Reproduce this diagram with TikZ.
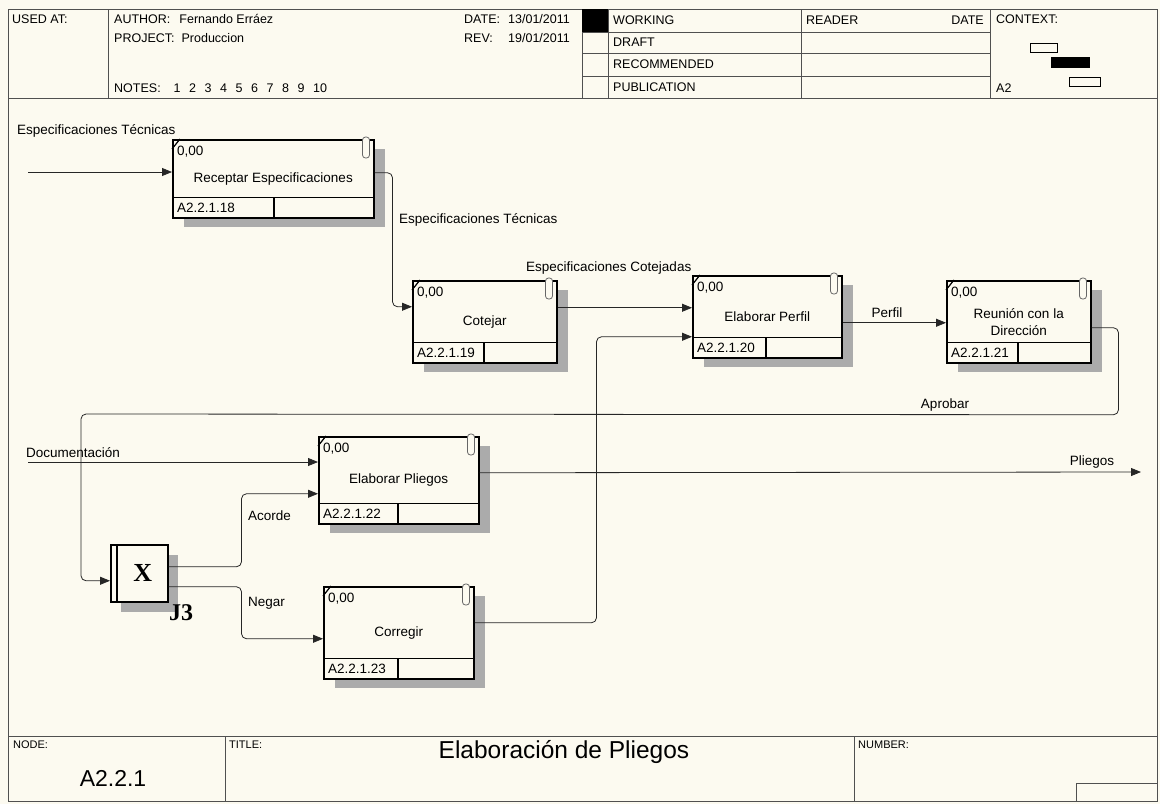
\documentclass[tikz,border=0pt]{standalone}
\usepackage{fontspec}
\setmainfont{Liberation Sans}
\newfontfamily\juncfont{Liberation Serif}
\usetikzlibrary{arrows.meta,calc}
\definecolor{paperclr}{HTML}{FCFAF0}
\definecolor{frameclr}{HTML}{505050}
\definecolor{shadeclr}{HTML}{ABABAB}

% activity box: name, north-west corner, width, height, divider, text, number
\newcommand{\actbox}[7]{%
  \fill[boxshadow] ($(#2)+(12,10)$) rectangle ++(#3,#4);
  \node[act, minimum width=#3pt, minimum height=#4pt] (#1) at (#2) {};
  \node[lbl, align=center] (#1-txt) at (#1.center) {#6};
  \draw[line width=1.2pt] ([yshift=21pt]#1.south west) -- ([yshift=21pt]#1.south east);
  \draw[line width=1.2pt] ([xshift=#5pt]#1.south west) -- ([xshift=#5pt,yshift=21pt]#1.south west);
  \node[lbl, anchor=west] (#1-num) at ([xshift=4pt,yshift=10.5pt]#1.south west) {#7};
  \node[lbl, anchor=west] (#1-cost) at ([xshift=4pt,yshift=-13pt]#1.north west) {0,00};
  \draw[line width=1.2pt] ([yshift=-10pt]#1.north west) -- ([xshift=8pt]#1.north west);
  \draw[clipicon] ([xshift=-12pt,yshift=2pt]#1.north east) rectangle ([xshift=-5pt,yshift=-19pt]#1.north east);
}

\begin{document}
\begin{tikzpicture}[x=1pt, y=-1pt,
  font=\fontsize{13.5}{17}\selectfont,
  frame/.style={draw=frameclr, line width=1pt},
  act/.style={rectangle, draw=black, line width=1.5pt, fill=paperclr, anchor=north west, inner sep=0pt},
  junc/.style={act, minimum width=57pt, minimum height=57pt},
  boxshadow/.style={fill=shadeclr},
  lbl/.style={inner sep=1pt, font=\fontsize{13.5}{17}\selectfont},
  hdr/.style={inner sep=0pt, anchor=west, font=\fontsize{12.5}{15}\selectfont},
  tblk/.style={inner sep=0pt, anchor=west, font=\fontsize{11}{13}\selectfont},
  clipicon/.style={draw=black!60, line width=0.8pt, fill=paperclr, rounded corners=3pt},
  arrow/.style={-{Triangle[length=10pt,width=8pt]}, line width=0.8pt, draw=black!85, rounded corners=5pt},
]

% Paper
\fill[paperclr] (0,0) rectangle (1160,804);
\useasboundingbox (0,0) rectangle (1160,804);

% Frame
\draw[frame] (8,9) rectangle (1157,801);
\draw[frame] (8,98) -- (1157,98);
\draw[frame] (8,736) -- (1157,736);

% Header
\foreach \x in {108,582,608,801,990} \draw[frame] (\x,9) -- (\x,98);
\foreach \y in {32,53,76} \draw[frame] (582,\y) -- (990,\y);
\fill (582,9) rectangle (608,32);
\node[hdr] (usedat) at (12,19) {USED AT:};
\node[hdr] (author) at (114,19) {AUTHOR:\hspace{9pt}Fernando Erráez};
\node[hdr] (project) at (114,38) {PROJECT:\hspace{7pt}Produccion};
\node[hdr] (notes) at (114,88) {NOTES:};
\foreach \n [count=\i] in {1,...,10}
  \node[hdr] (note\n) at (158+15.5*\i, 88) {\n};
\node[hdr] (date) at (464,19) {DATE:};
\node[hdr] (dateval) at (508,19) {13/01/2011};
\node[hdr] (rev) at (464,38) {REV:};
\node[hdr] (revval) at (508,38) {19/01/2011};
\node[hdr] (working) at (613,20) {WORKING};
\node[hdr] (draft) at (613,42) {DRAFT};
\node[hdr] (recom) at (613,64) {RECOMMENDED};
\node[hdr] (public) at (613,87) {PUBLICATION};
\node[hdr] (reader) at (806,20) {READER};
\node[hdr, anchor=east] (readdate) at (984,20) {DATE};
\node[hdr] (context) at (996,19) {CONTEXT:};
\node[hdr] (ctxnode) at (996,88) {A2};
\draw[line width=0.8pt] (1030,43) rectangle (1057,52);
\fill (1051,57) rectangle (1090,68);
\draw[line width=0.8pt] (1069,77) rectangle (1100,86);

% Activities
\actbox{recep}{172,139}{201}{78}{102}{Receptar Especificaciones}{A2.2.1.18}
\actbox{cotejar}{412,280}{144}{82}{72}{Cotejar}{A2.2.1.19}
\actbox{perfil}{692,275}{149}{82}{74}{Elaborar Perfil}{A2.2.1.20}
\actbox{reunion}{946,280}{144}{82}{72}{Reunión con la\\Dirección}{A2.2.1.21}
\actbox{pliegos}{318,436}{160}{87}{80}{Elaborar Pliegos}{A2.2.1.22}
\actbox{corregir}{323,586}{150}{92}{75}{Corregir}{A2.2.1.23}

% Junction J3
\fill[boxshadow] (121,555) rectangle (178,612);
\node[junc] (j3) at (110,544) {};
\draw[line width=1.2pt] ([xshift=7pt]j3.north west) -- ([xshift=7pt]j3.south west);
\node[font=\juncfont\bfseries\fontsize{26}{26}\selectfont] (j3x) at ([xshift=3.5pt]j3.center) {X};
\node[font=\juncfont\bfseries\fontsize{24}{24}\selectfont] (j3lbl) at (181,613) {J3};

% Free ends
\coordinate (espIn) at (28,172);
\coordinate (docIn) at (28,462);
\coordinate (pliegosOut) at (1141,472);
\coordinate (aprobarTurn) at (81,414);

% Arrows
\draw[arrow] (espIn) -- (espIn -| recep.west);
\draw[arrow] ([yshift=6pt]recep.east) -- ++(18,0) |- ([yshift=15pt]cotejar.west);
\draw[arrow] ([yshift=14pt]cotejar.east) -- ([yshift=14pt]cotejar.east -| perfil.west);
\draw[arrow] ([yshift=-6pt]perfil.east) -- ([yshift=-6pt]perfil.east -| reunion.west);
\draw[arrow] ([yshift=-6pt]reunion.east) -| ++(27,87) -- (aprobarTurn) |- ([yshift=-7.5pt]j3.west);
\draw[arrow] (docIn) -- (docIn -| pliegos.west);
\draw[arrow] ([yshift=6.5pt]j3.east) -- ++(73,0) |- ([yshift=-13.5pt]pliegos.west);
\draw[arrow] ([yshift=-13.5pt]j3.east) -- ++(73,0) |- ([yshift=-6pt]corregir.west);
\draw[arrow] ([yshift=7.5pt]pliegos.east) -- (pliegosOut);
\draw[arrow] ([yshift=10pt]corregir.east) -- ++(122,0) |- ([yshift=-20pt]perfil.west);

% Arrow labels
\node[lbl, anchor=west] (espInLbl) at (16,131) {Especificaciones Técnicas};
\node[lbl, anchor=west] (espLbl) at (398,220) {Especificaciones Técnicas};
\node[lbl, anchor=west] (cotLbl) at (525,268) {Especificaciones Cotejadas};
\node[lbl] (perfilLbl) at (887,313) {Perfil};
\node[lbl] (aprobarLbl) at (945,405) {Aprobar};
\node[lbl, anchor=west] (docLbl) at (25,453) {Documentación};
\node[lbl, anchor=west] (acordeLbl) at (247,516) {Acorde};
\node[lbl, anchor=west] (negarLbl) at (247,603) {Negar};
\node[lbl] (pliegosLbl) at (1092,462) {Pliegos};

% Title block
\draw[frame] (225,736) -- (225,801);
\draw[frame] (854,736) -- (854,801);
\draw[frame] (1076,801) |- (1157,783);
\node[tblk] (nodelbl) at (13,745) {NODE:};
\node[tblk] (titlelbl) at (229,745) {TITLE:};
\node[tblk] (numlbl) at (858,745) {NUMBER:};
\node[font=\fontsize{23}{26}\selectfont] (nodeval) at (113,778) {A2.2.1};
\node[font=\fontsize{24.5}{28}\selectfont] (titleval) at (564,752) {Elaboración de Pliegos};

\end{tikzpicture}
\end{document}
